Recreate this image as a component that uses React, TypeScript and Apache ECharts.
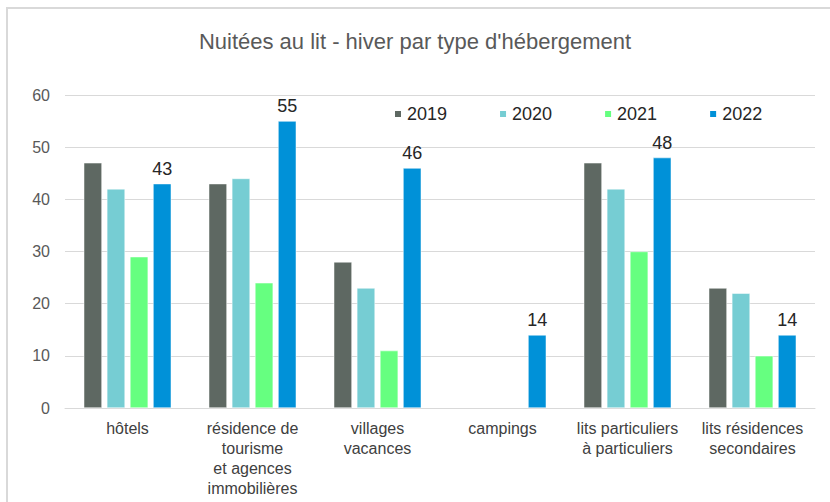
import React, { useEffect, useRef } from "react";
import * as echarts from "echarts";

const categories = [
  "hôtels",
  "résidence de\ntourisme\net agences\nimmobilières",
  "villages\nvacances",
  "campings",
  "lits particuliers\nà particuliers",
  "lits résidences\nsecondaires",
];
const seriesNames = ["2019", "2020", "2021", "2022"];
const values2019 = [47, 43, 28, null, 47, 23];
const values2020 = [42, 44, 23, null, 42, 22];
const values2021 = [29, 24, 11, null, 30, 10];
const values2022 = [43, 55, 46, 14, 48, 14];
const yTicks = [0, 10, 20, 30, 40, 50, 60];

const colors = ["#5e6862", "#76cdd3", "#66ff80", "#0091d8"];
const FONT = "'Liberation Sans', Arial, sans-serif";

export default function App() {
  const ref = useRef<HTMLDivElement>(null);
  useEffect(() => {
    if (!ref.current) return;
    const chart = echarts.init(ref.current, undefined, { renderer: "svg" });
    const data = [values2019, values2020, values2021, values2022];
    chart.setOption({
      animation: false,
      backgroundColor: "#ffffff",
      textStyle: { fontFamily: FONT },
      title: {
        text: "Nuitées au lit - hiver par type d'hébergement",
        left: "center",
        top: 25,
        textStyle: { fontFamily: FONT, fontSize: 22, fontWeight: "normal", color: "#595959" },
      },
      legend: {
        data: seriesNames,
        left: 388,
        top: 100,
        itemWidth: 8,
        itemHeight: 8,
        itemGap: 51,
        icon: "rect",
        textStyle: { fontFamily: FONT, fontSize: 18, color: "#262626" },
      },
      graphic: [
        {
          type: "rect",
          shape: { x: 7, y: 8, width: 900, height: 600 },
          style: { fill: "none", stroke: "#d9d9d9", lineWidth: 2 },
          silent: true,
          z: -1,
        },
      ],
      grid: { left: 65, right: 15, top: 95, bottom: 94 },
      xAxis: {
        type: "category",
        data: categories,
        axisLine: { lineStyle: { color: "#d9d9d9", width: 1 } },
        axisTick: { show: false },
        axisLabel: {
          interval: 0,
          fontFamily: FONT,
          fontSize: 16,
          color: "#404040",
          lineHeight: 20,
          margin: 10,
        },
      },
      yAxis: {
        type: "value",
        min: yTicks[0],
        max: yTicks[yTicks.length - 1],
        interval: 10,
        axisLine: { show: false },
        axisTick: { show: false },
        splitLine: { lineStyle: { color: "#d9d9d9", width: 1 } },
        axisLabel: { fontFamily: FONT, fontSize: 16, color: "#595959", margin: 15 },
      },
      series: seriesNames.map((name, i) => ({
        name,
        type: "bar",
        data: data[i],
        barGap: "27%",
        barCategoryGap: "30%",
        itemStyle: { color: colors[i], borderColor: "#ffffff", borderWidth: 0.5 },
        label:
          i === 3
            ? {
                show: true,
                position: "top",
                distance: 6,
                fontFamily: FONT,
                fontSize: 18,
                color: "#262626",
              }
            : { show: false },
      })),
    });
    return () => chart.dispose();
  }, []);
  return (
    <div
      ref={ref}
      style={{ position: "fixed", left: 0, top: 0, width: 830, height: 502 }}
    />
  );
}
